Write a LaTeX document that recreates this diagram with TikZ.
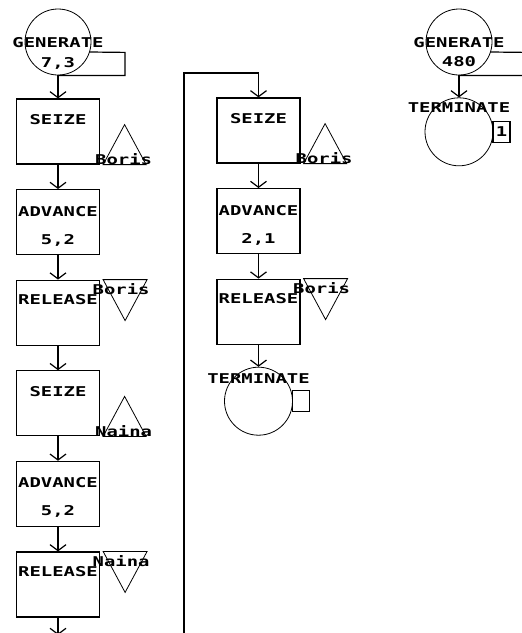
\documentclass[tikz,border=0pt]{standalone}
\usepackage{fontspec}
\newfontfamily\gpssfont{DejaVu Sans Mono}[FakeStretch=1.4]
\usetikzlibrary{arrows.meta,positioning}

\begin{document}
\begin{tikzpicture}[
    x=1pt, y=-1pt,
    node distance=24.4pt,
    block/.style={rectangle, draw, line width=1.2pt, minimum width=83pt, minimum height=65pt, inner sep=0pt},
    word/.style={inner sep=0pt, text height=10pt, text depth=0pt, font=\gpssfont\bfseries\fontsize{13.5pt}{14pt}\selectfont},
    ring/.style={circle, draw, line width=0.8pt, minimum size=66pt, inner sep=0pt},
    counter/.style={word, rectangle, draw, line width=1.2pt, minimum width=17pt, minimum height=21pt, anchor=west},
    facility/.style={draw, line width=0.8pt},
    tab/.style={draw, line width=1.2pt},
    flow/.style={draw, line width=1.2pt, -{Straight Barb[length=6pt,width=16pt]}}
]
\useasboundingbox (0,0) rectangle (522,633);
\clip (0,0) rectangle (522,633);

% First segment
\node[ring] (gen1) at (58,42) {};
\draw[tab] (gen1.south) -- ++(67,0) -- ++(0,-23) -- ([xshift=31.4pt,yshift=-10pt]gen1.center);
\node[word] (gen1name) at (gen1.center) {GENERATE};
\node[word] (gen1arg) at (58,62) {7,3};

\node[block, below=23pt of gen1] (seize1) {};
\node[word] (seize1name) at ([yshift=-21pt]seize1.north) {SEIZE};
\draw[facility] ([xshift=3pt]seize1.south east) -- ++(43,0) -- ++(-21.5,-40) -- cycle;
\node[word] (seize1fac) at ([xshift=23.5pt,yshift=5pt]seize1.south east) {Boris};

\node[block, below=of seize1] (adv1) {};
\node[word] (adv1name) at ([yshift=-22pt]adv1.north) {ADVANCE};
\node[word] (adv1arg) at ([yshift=-50pt]adv1.north) {5,2};

\node[block, below=of adv1] (release1) {};
\node[word] (release1name) at ([yshift=-20pt]release1.north) {RELEASE};
\draw[facility] ([xshift=3pt]release1.north east) -- ++(44,0) -- ++(-22,41) -- cycle;
\node[word] (release1fac) at ([xshift=21pt,yshift=-10pt]release1.north east) {Boris};

\node[block, below=of release1] (seize2) {};
\node[word] (seize2name) at ([yshift=-21pt]seize2.north) {SEIZE};
\draw[facility] ([xshift=3pt]seize2.south east) -- ++(43,0) -- ++(-21.5,-40) -- cycle;
\node[word] (seize2fac) at ([xshift=23.5pt,yshift=5pt]seize2.south east) {Naina};

\node[block, below=of seize2] (adv2) {};
\node[word] (adv2name) at ([yshift=-22pt]adv2.north) {ADVANCE};
\node[word] (adv2arg) at ([yshift=-50pt]adv2.north) {5,2};

\node[block, below=of adv2] (release2) {};
\node[word] (release2name) at ([yshift=-20pt]release2.north) {RELEASE};
\draw[facility] ([xshift=3pt]release2.north east) -- ++(44,0) -- ++(-22,41) -- cycle;
\node[word] (release2fac) at ([xshift=21pt,yshift=-10pt]release2.north east) {Naina};

\coordinate (exit1) at (58,635);

\draw[flow] (gen1) -- (seize1);
\draw[flow] (seize1) -- (adv1);
\draw[flow] (adv1) -- (release1);
\draw[flow] (release1) -- (seize2);
\draw[flow] (seize2) -- (adv2);
\draw[flow] (adv2) -- (release2);
\draw[flow] (release2) -- (exit1);

% Second segment
\node[block] (seize3) at (258.5,130.5) {};
\node[word] (seize3name) at ([yshift=-21pt]seize3.north) {SEIZE};
\draw[facility] ([xshift=3pt]seize3.south east) -- ++(43,0) -- ++(-21.5,-40) -- cycle;
\node[word] (seize3fac) at ([xshift=23.5pt,yshift=5pt]seize3.south east) {Boris};

\node[block, below=of seize3] (adv3) {};
\node[word] (adv3name) at ([yshift=-22pt]adv3.north) {ADVANCE};
\node[word] (adv3arg) at ([yshift=-50pt]adv3.north) {2,1};

\node[block, below=of adv3] (release3) {};
\node[word] (release3name) at ([yshift=-20pt]release3.north) {RELEASE};
\draw[facility] ([xshift=3pt]release3.north east) -- ++(44,0) -- ++(-22,41) -- cycle;
\node[word] (release3fac) at ([xshift=21pt,yshift=-10pt]release3.north east) {Boris};

\node[ring, minimum size=68pt, below=22pt of release3] (term1) {};
\node[word] (term1name) at ([yshift=-12pt]term1.north) {TERMINATE};
\node[counter] (term1count) at ([xshift=-1pt]term1.east) {};

\coordinate (loopin) at (184,635);

\draw[flow] (loopin) -- ++(0,-562) -| (seize3);
\draw[flow] (seize3) -- (adv3);
\draw[flow] (adv3) -- (release3);
\draw[flow] (release3) -- (term1);

% Timer segment
\node[ring] (gen2) at (459,42) {};
\draw[tab] (gen2.south) -- ++(67,0) -- ++(0,-23) -- ([xshift=31.4pt,yshift=-10pt]gen2.center);
\node[word] (gen2name) at (gen2.center) {GENERATE};
\node[word] (gen2arg) at (459,61) {480};

\node[ring, minimum size=68pt, below=22pt of gen2] (term2) {};
\node[word] (term2name) at ([yshift=-10pt]term2.north) {TERMINATE};
\node[counter] (term2count) at ([xshift=-1pt]term2.east) {1};

\draw[flow] (gen2) -- (term2);

\end{tikzpicture}
\end{document}
